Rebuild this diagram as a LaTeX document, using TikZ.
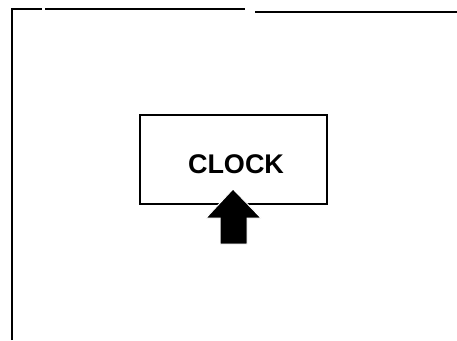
\documentclass[tikz,border=0pt]{standalone}
\usepackage{fontspec}
\setsansfont{Liberation Sans}
\usetikzlibrary{positioning}
\tikzset{
  rand/.style={line width=2pt, black},
  clockbox/.style={draw, line width=2pt, minimum width=187pt, minimum height=89pt,
    font=\sffamily\bfseries\fontsize{27}{30}\selectfont, inner sep=0pt}
}
\begin{document}
\begin{tikzpicture}[x=1pt, y=-1pt]
  \useasboundingbox (0,0) rectangle (457,340);
  % Rahmen
  \draw[rand] (12,340) -- (12,9) -- (42,9);
  \draw[rand] (45,9) -- (245,9);
  \draw[rand] (255,12) -- (457,12);
  % Kasten
  \node[clockbox] (clock) at (233.5,159.5) {};
  \node[font=\sffamily\bfseries\fontsize{27}{30}\selectfont, inner sep=0pt] (label) at (236,164) {CLOCK};
  % Pfeil
  \fill[black, draw=white, line width=1pt] (233,189) -- (261,218) -- (247,218) -- (247,244)
    -- (220,244) -- (220,218) -- (206,218) -- cycle;
\end{tikzpicture}
\end{document}
